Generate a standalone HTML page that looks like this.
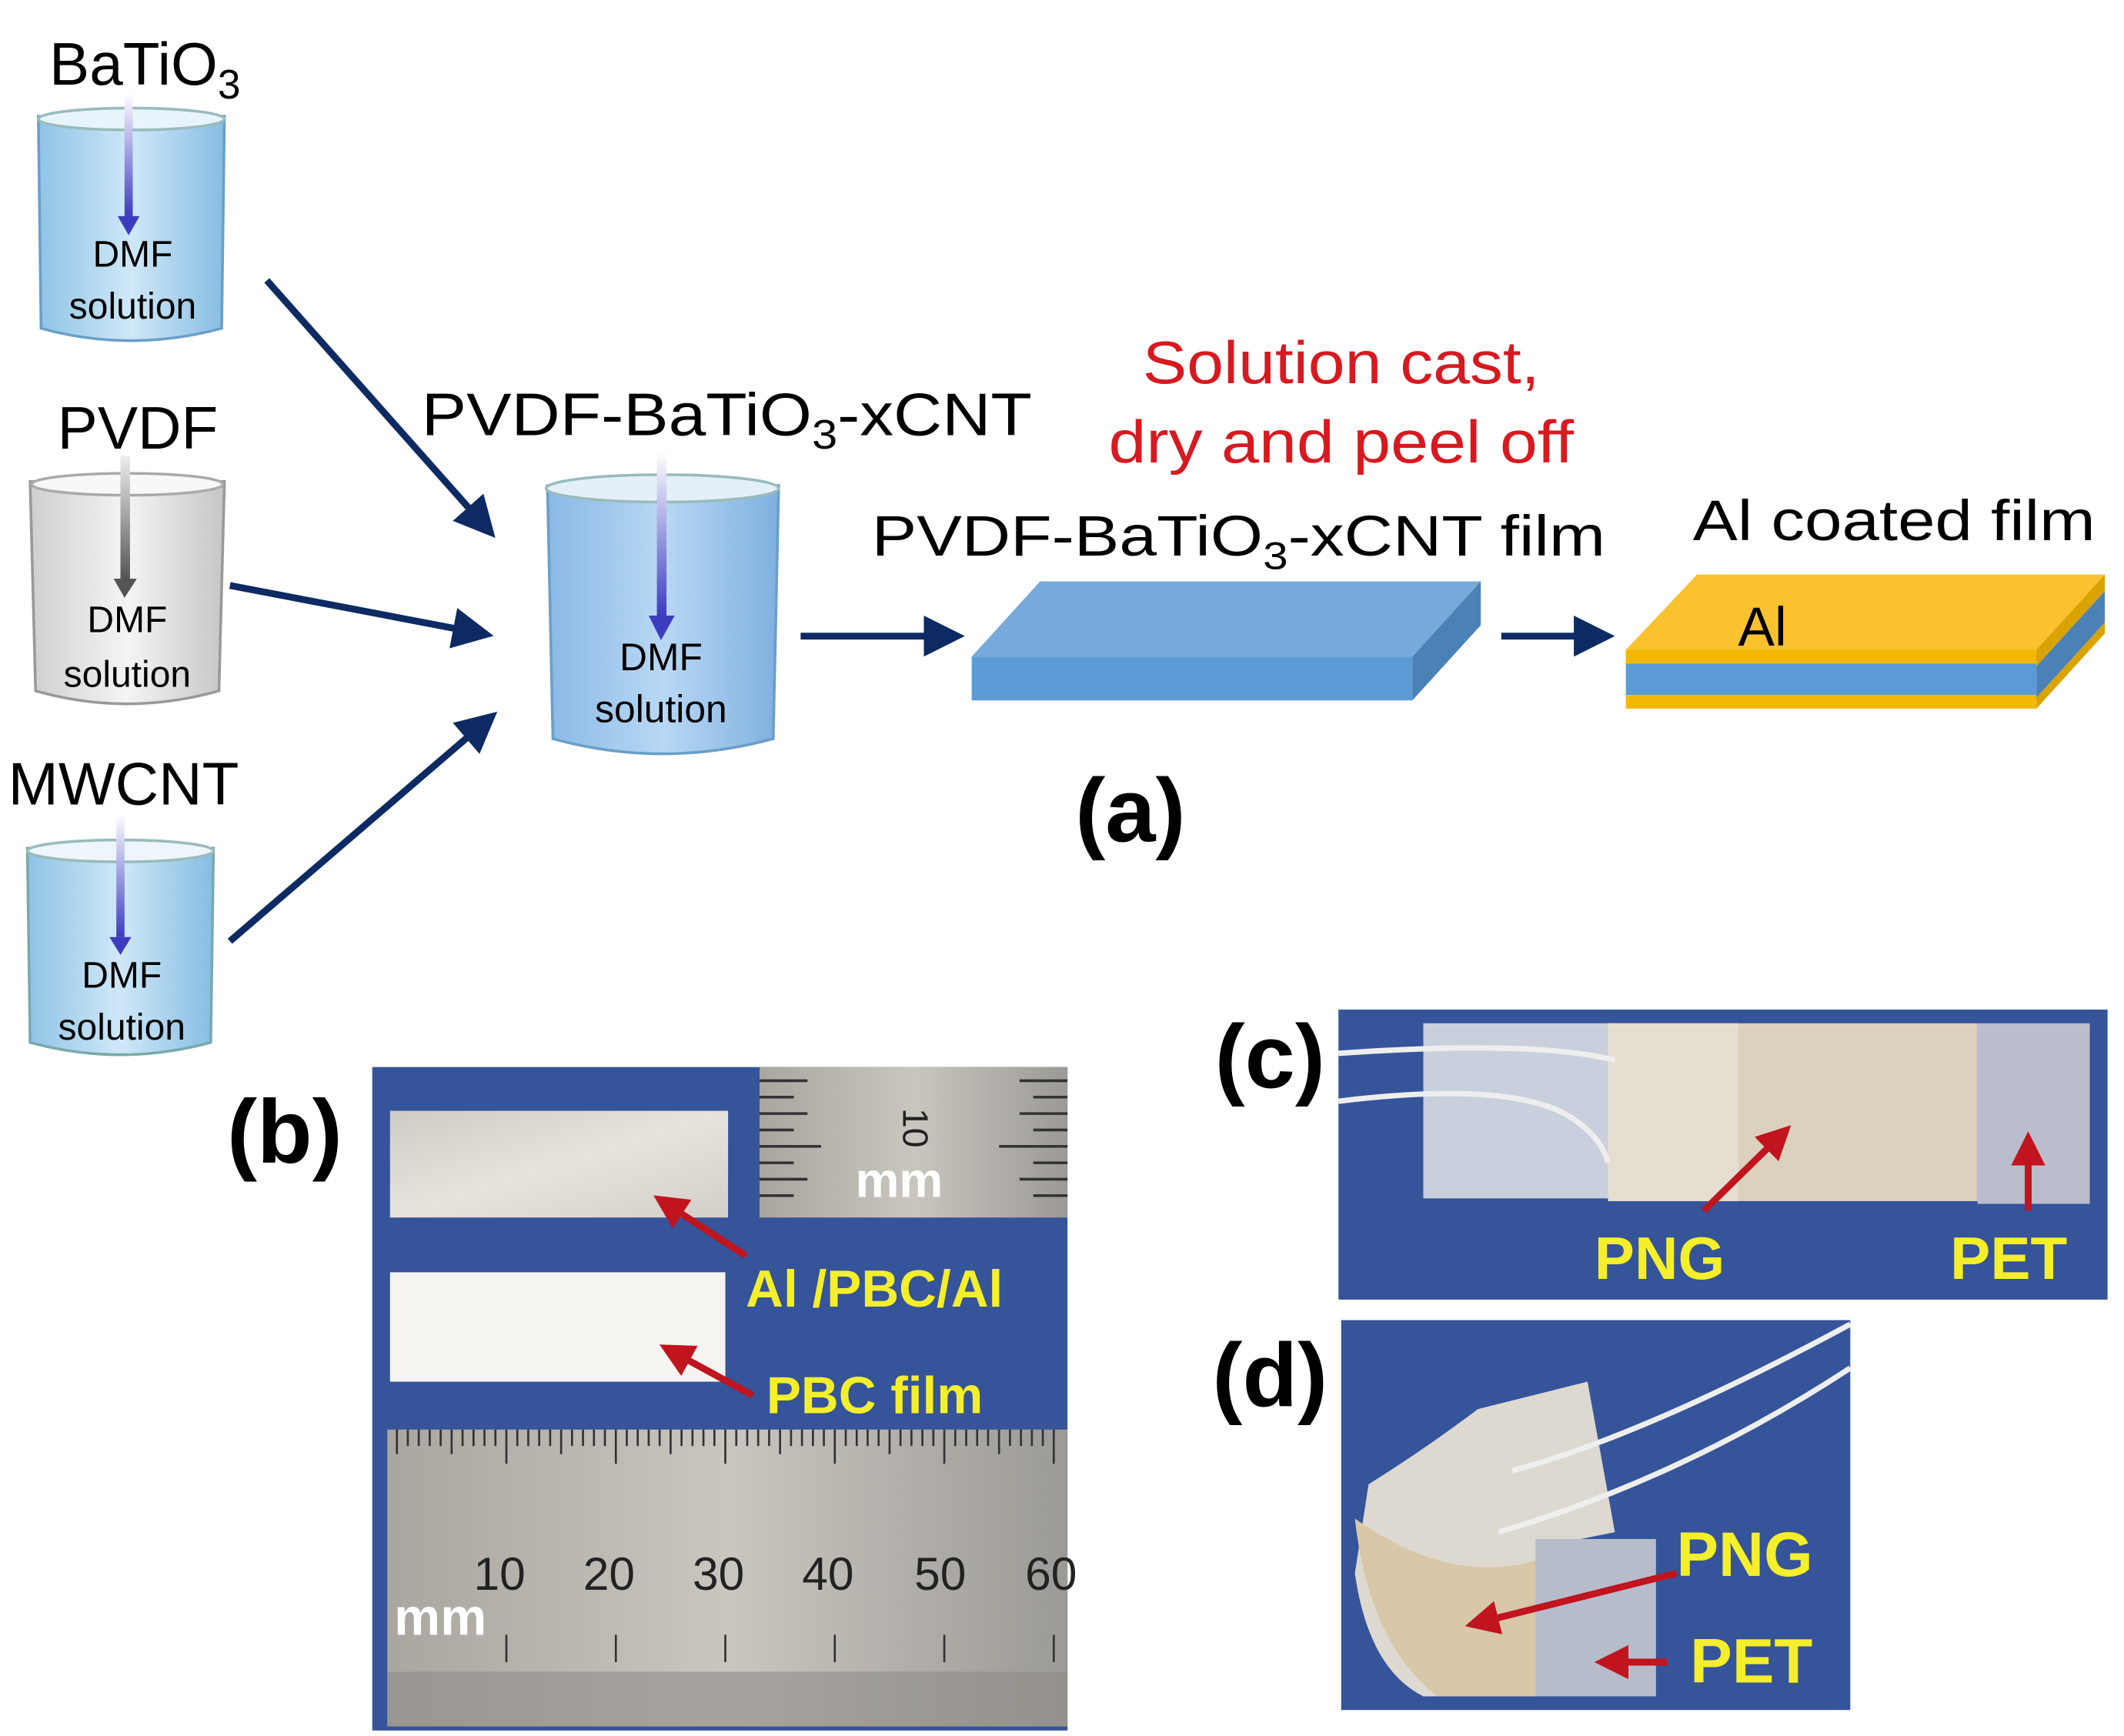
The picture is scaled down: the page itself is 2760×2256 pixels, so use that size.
<!DOCTYPE html>
<html><head><meta charset="utf-8"><style>
html,body{margin:0;padding:0;background:#fff}
svg{display:block}
text{font-family:"Liberation Sans",Arial,sans-serif}
</style></head><body>
<svg width="2760" height="2256" viewBox="0 0 1552 1269" preserveAspectRatio="none" xmlns="http://www.w3.org/2000/svg">
<defs>
<linearGradient id="bl" x1="0" x2="1"><stop offset="0" stop-color="#8fc3e6"/><stop offset="0.5" stop-color="#cfe8f8"/><stop offset="1" stop-color="#86bde3"/></linearGradient>
<linearGradient id="bl2" x1="0" x2="1"><stop offset="0" stop-color="#8ab8e6"/><stop offset="0.5" stop-color="#b8d8f4"/><stop offset="1" stop-color="#7fb0e0"/></linearGradient>
<linearGradient id="gr" x1="0" x2="1"><stop offset="0" stop-color="#cfcfcf"/><stop offset="0.5" stop-color="#f4f4f4"/><stop offset="1" stop-color="#c6c6c6"/></linearGradient>
<linearGradient id="ar" x1="0" y1="0" x2="0" y2="1"><stop offset="0" stop-color="#ffffff"/><stop offset="1" stop-color="#3c3cc0"/></linearGradient>
<linearGradient id="arg" x1="0" y1="0" x2="0" y2="1"><stop offset="0" stop-color="#eeeeee"/><stop offset="1" stop-color="#555"/></linearGradient>
<linearGradient id="rul" x1="0" y1="0" x2="1" y2="0"><stop offset="0" stop-color="#a9a6a0"/><stop offset="0.5" stop-color="#c9c6bf"/><stop offset="1" stop-color="#9c9a96"/></linearGradient>
<linearGradient id="alg" x1="0" y1="0" x2="1" y2="1"><stop offset="0" stop-color="#cfcbc4"/><stop offset="0.5" stop-color="#e6e3dd"/><stop offset="1" stop-color="#d3cfc8"/></linearGradient>
<marker id="ah" markerWidth="6" markerHeight="6" refX="3" refY="3" orient="auto" markerUnits="strokeWidth"><path d="M0,0 L6,3 L0,6 Z" fill="#0d2a63"/></marker>
<marker id="rh" markerWidth="5" markerHeight="5" refX="2" refY="2.5" orient="auto" markerUnits="strokeWidth"><path d="M0,0 L5,2.5 L0,5 Z" fill="#c0141e"/></marker>
</defs>

<g>
 <path d="M28,85 L30,240 Q95,258 162,240 L164,85 Z" fill="url(#bl)" stroke="#6a9fc8" stroke-width="2"/>
 <ellipse cx="96" cy="87" rx="68" ry="8" fill="#e8f4fb" stroke="#9bb" stroke-width="2"/>
 <rect x="91" y="68" width="6" height="90" fill="url(#ar)"/><path d="M86,158 L102,158 L94,172 Z" fill="#3c3cc0"/>
 <text x="36" y="62" font-size="44">BaTiO<tspan font-size="30" dy="10">3</tspan></text>
 <text x="97" y="195" font-size="27" text-anchor="middle">DMF</text>
 <text x="97" y="233" font-size="27" text-anchor="middle">solution</text>
</g>
<g>
 <path d="M22,352 L26,505 Q93,524 160,505 L164,352 Z" fill="url(#gr)" stroke="#999" stroke-width="2"/>
 <ellipse cx="93" cy="354" rx="70" ry="8" fill="#f8f8f8" stroke="#aaa" stroke-width="2"/>
 <rect x="88" y="333" width="7" height="90" fill="url(#arg)"/><path d="M83,423 L100,423 L91,437 Z" fill="#555"/>
 <text x="42" y="328" font-size="44">PVDF</text>
 <text x="93" y="462" font-size="27" text-anchor="middle">DMF</text>
 <text x="93" y="502" font-size="27" text-anchor="middle">solution</text>
</g>
<g>
 <path d="M20,620 L22,762 Q88,780 154,762 L156,620 Z" fill="url(#bl)" stroke="#7aa" stroke-width="2"/>
 <ellipse cx="88" cy="622" rx="68" ry="8" fill="#eef6fb" stroke="#9bb" stroke-width="2"/>
 <rect x="85" y="595" width="6" height="90" fill="url(#ar)"/><path d="M80,685 L96,685 L88,698 Z" fill="#3c3cc0"/>
 <text x="6" y="588" font-size="44">MWCNT</text>
 <text x="89" y="722" font-size="27" text-anchor="middle">DMF</text>
 <text x="89" y="760" font-size="27" text-anchor="middle">solution</text>
</g>
<g>
 <path d="M400,355 L404,540 Q484,562 565,540 L569,355 Z" fill="url(#bl2)" stroke="#6a9fc8" stroke-width="2"/>
 <ellipse cx="484" cy="357" rx="85" ry="10" fill="#e3f0fa" stroke="#9bb" stroke-width="2"/>
 <rect x="480" y="330" width="7" height="120" fill="url(#ar)"/><path d="M474,450 L493,450 L483,468 Z" fill="#3c3cc0"/>
 <text x="308" y="318" font-size="44" textLength="446" lengthAdjust="spacingAndGlyphs">PVDF-BaTiO<tspan font-size="30" dy="10">3</tspan><tspan dy="-10">-xCNT</tspan></text>
 <text x="483" y="490" font-size="28" text-anchor="middle">DMF</text>
 <text x="483" y="528" font-size="28" text-anchor="middle">solution</text>
</g>

<g stroke="#0d2a63" stroke-width="5" fill="none" marker-end="url(#ah)">
 <line x1="195" y1="205" x2="352" y2="382"/>
 <line x1="168" y1="428" x2="346" y2="462"/>
 <line x1="168" y1="688" x2="352" y2="530"/>
 <line x1="585" y1="465" x2="690" y2="465"/>
 <line x1="1097" y1="465" x2="1165" y2="465"/>
</g>

<polygon points="710,480 760,425 1082,425 1032,480" fill="#77aadb"/>
<rect x="710" y="480" width="322" height="32" fill="#5b9bd5"/>
<polygon points="1032,480 1082,425 1082,457 1032,512" fill="#4a82b8"/>
<text x="637" y="406" font-size="42" textLength="536" lengthAdjust="spacingAndGlyphs">PVDF-BaTiO<tspan font-size="28" dy="10">3</tspan><tspan dy="-10">-xCNT film</tspan></text>
<text x="980" y="280" font-size="44" fill="#d71920" text-anchor="middle" textLength="290" lengthAdjust="spacingAndGlyphs">Solution cast,</text>
<text x="980" y="338" font-size="44" fill="#d71920" text-anchor="middle" textLength="340" lengthAdjust="spacingAndGlyphs">dry and peel off</text>

<polygon points="1188,475 1240,420 1538,420 1488,475" fill="#f9c22e"/>
<rect x="1188" y="475" width="300" height="10" fill="#f5b800"/>
<rect x="1188" y="485" width="300" height="23" fill="#5b9bd5"/>
<rect x="1188" y="508" width="300" height="10" fill="#f5b800"/>
<polygon points="1488,475 1538,420 1538,432 1488,487" fill="#d9a300"/>
<polygon points="1488,487 1538,432 1538,455 1488,510" fill="#4a82b8"/>
<polygon points="1488,510 1538,455 1538,463 1488,518" fill="#d9a300"/>
<text x="1237" y="395" font-size="42" textLength="294" lengthAdjust="spacingAndGlyphs">Al coated film</text>
<text x="1270" y="472" font-size="40">Al</text>
<text x="826" y="615" font-size="66" font-weight="bold" text-anchor="middle">(a)</text>

<text x="208" y="850" font-size="66" font-weight="bold" text-anchor="middle">(b)</text>
<rect x="272" y="780" width="508" height="485" fill="#35549a"/>
<rect x="285" y="812" width="247" height="78" fill="url(#alg)"/>
<rect x="285" y="930" width="245" height="80" fill="#f5f4f0"/>
<rect x="555" y="780" width="225" height="110" fill="url(#rul)"/>
<g stroke="#333" stroke-width="2">
 <line x1="555" y1="790" x2="590" y2="790"/><line x1="555" y1="802" x2="580" y2="802"/><line x1="555" y1="814" x2="590" y2="814"/><line x1="555" y1="826" x2="580" y2="826"/><line x1="555" y1="838" x2="600" y2="838"/><line x1="555" y1="850" x2="580" y2="850"/><line x1="555" y1="862" x2="590" y2="862"/><line x1="555" y1="874" x2="580" y2="874"/>
 <line x1="780" y1="790" x2="745" y2="790"/><line x1="780" y1="802" x2="755" y2="802"/><line x1="780" y1="814" x2="745" y2="814"/><line x1="780" y1="826" x2="755" y2="826"/><line x1="780" y1="838" x2="730" y2="838"/><line x1="780" y1="850" x2="755" y2="850"/><line x1="780" y1="862" x2="745" y2="862"/><line x1="780" y1="874" x2="755" y2="874"/>
</g>
<text x="660" y="810" font-size="26" transform="rotate(90 660 810)" fill="#222">10</text>
<text x="625" y="875" font-size="36" fill="#fff" font-weight="bold">mm</text>
<rect x="283" y="1045" width="497" height="217" fill="url(#rul)"/>
<g stroke="#333" stroke-width="1.5">
 <path d="M290,1045 v18 M298,1045 v12 M306,1045 v12 M314,1045 v12 M322,1045 v12 M330,1045 v18 M338,1045 v12 M346,1045 v12 M354,1045 v12 M362,1045 v12 M370,1045 v25 M378,1045 v12 M386,1045 v12 M394,1045 v12 M402,1045 v12 M410,1045 v18 M418,1045 v12 M426,1045 v12 M434,1045 v12 M442,1045 v12 M450,1045 v25 M458,1045 v12 M466,1045 v12 M474,1045 v12 M482,1045 v12 M490,1045 v18 M498,1045 v12 M506,1045 v12 M514,1045 v12 M522,1045 v12 M530,1045 v25 M538,1045 v12 M546,1045 v12 M554,1045 v12 M562,1045 v12 M570,1045 v18 M578,1045 v12 M586,1045 v12 M594,1045 v12 M602,1045 v12 M610,1045 v25 M618,1045 v12 M626,1045 v12 M634,1045 v12 M642,1045 v12 M650,1045 v18 M658,1045 v12 M666,1045 v12 M674,1045 v12 M682,1045 v12 M690,1045 v25 M698,1045 v12 M706,1045 v12 M714,1045 v12 M722,1045 v12 M730,1045 v18 M738,1045 v12 M746,1045 v12 M754,1045 v12 M762,1045 v12 M770,1045 v25"/>
 <path d="M370,1195 v20 M450,1195 v20 M530,1195 v20 M610,1195 v20 M690,1195 v20 M770,1195 v20"/>
</g>
<rect x="283" y="1222" width="497" height="40" fill="#8f8c88" opacity="0.6"/>
<g font-size="34" fill="#222" text-anchor="middle"><text x="365" y="1162">10</text><text x="445" y="1162">20</text><text x="525" y="1162">30</text><text x="605" y="1162">40</text><text x="687" y="1162">50</text><text x="768" y="1162">60</text></g>
<text x="288" y="1195" font-size="38" fill="#fff" font-weight="bold">mm</text>
<g stroke="#c0141e" stroke-width="5" marker-end="url(#rh)">
 <line x1="545" y1="918" x2="490" y2="882"/><line x1="550" y1="1020" x2="495" y2="990"/>
</g>
<text x="545" y="955" font-size="38" font-weight="bold" fill="#f4ef2a">Al /PBC/Al</text>
<text x="560" y="1033" font-size="38" font-weight="bold" fill="#f4ef2a">PBC film</text>

<text x="928" y="795" font-size="66" font-weight="bold" text-anchor="middle">(c)</text>
<rect x="978" y="738" width="562" height="212" fill="#35549a"/>
<rect x="1040" y="748" width="140" height="128" fill="#c9cfdc"/>
<rect x="1175" y="748" width="270" height="130" fill="#dcd1bd"/>
<rect x="1175" y="748" width="95" height="130" fill="#e6dfcf"/>
<rect x="1445" y="748" width="82" height="132" fill="#b9bdcc"/>
<path d="M978,770 Q1120,760 1180,775" stroke="#eee" stroke-width="4" fill="none"/>
<path d="M978,805 Q1100,790 1145,815 Q1170,830 1175,850" stroke="#eee" stroke-width="4" fill="none"/>
<g stroke="#c0141e" stroke-width="5" marker-end="url(#rh)">
 <line x1="1245" y1="885" x2="1298" y2="833"/><line x1="1482" y1="885" x2="1482" y2="842"/>
</g>
<text x="1165" y="935" font-size="44" font-weight="bold" fill="#f4ef2a">PNG</text>
<text x="1425" y="935" font-size="44" font-weight="bold" fill="#f4ef2a">PET</text>

<text x="928" y="1028" font-size="66" font-weight="bold" text-anchor="middle">(d)</text>
<rect x="980" y="965" width="372" height="285" fill="#35549a"/>
<path d="M1000,1085 Q1040,1060 1080,1030 L1160,1010 L1180,1120 L1130,1130 L1120,1240 L1040,1240 Q1000,1220 990,1150 Z" fill="#ddd9d0"/>
<path d="M990,1110 Q1000,1200 1050,1240 L1125,1240 L1125,1140 Q1060,1160 990,1110 Z" fill="#d8c7a8"/>
<rect x="1122" y="1125" width="88" height="115" fill="#b7bccb"/>
<path d="M1105,1075 Q1200,1050 1352,968" stroke="#eee" stroke-width="4" fill="none"/>
<path d="M1095,1120 Q1230,1080 1352,1000" stroke="#eee" stroke-width="4" fill="none"/>
<g stroke="#c0141e" stroke-width="5" marker-end="url(#rh)">
 <line x1="1225" y1="1150" x2="1085" y2="1185"/><line x1="1218" y1="1215" x2="1180" y2="1215"/>
</g>
<text x="1225" y="1152" font-size="46" font-weight="bold" fill="#f4ef2a">PNG</text>
<text x="1235" y="1230" font-size="46" font-weight="bold" fill="#f4ef2a">PET</text>
</svg>
</body></html>
